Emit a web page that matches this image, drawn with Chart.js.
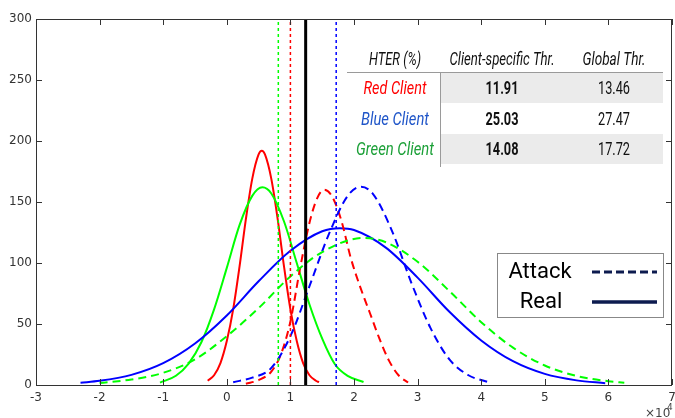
<!DOCTYPE html>
<html>
<head>
<meta charset="utf-8">
<script src="https://cdn.jsdelivr.net/npm/chart.js@4.4.1/dist/chart.umd.min.js"></script>
<style>
  body { margin: 0; background: #fff; }
  canvas { display: block; }
</style>
</head>
<body>
<canvas id="scoreChart" width="675" height="418"></canvas>
<script>
// score distributions (x in units of 1e4)
var redRealX = [-0.3, -0.2, -0.1, 0, 0.1, 0.2, 0.3, 0.4, 0.5, 0.55, 0.6, 0.7, 0.8, 0.9, 1.0, 1.1, 1.2, 1.3, 1.4, 1.45];
var redRealY = [3.5, 8, 18, 36, 62, 97, 136, 169, 189, 192, 189, 169, 136, 97, 62, 36, 18, 8, 3.5, 2.3];
var greenRealX = [-1.05, -0.8, -0.6, -0.4, -0.2, 0, 0.2, 0.4, 0.56, 0.7, 0.9, 1.1, 1.3, 1.5, 1.7, 1.9, 2.15];
var greenRealY = [2, 7.6, 17.6, 35, 62, 96, 131, 155, 162, 157, 134, 100, 66, 38, 17, 7.5, 2.5];
var blueRealX = [-2.3, -2, -1.5, -1, -0.5, 0, 0.5, 1, 1.5, 1.78, 2, 2.5, 3, 3.5, 4, 4.5, 5, 5.5, 5.95];
var blueRealY = [1.9, 3.4, 8.3, 17.9, 34, 57, 85, 110, 126, 128.5, 127, 112.6, 88, 60, 36.5, 19.5, 9.1, 3.8, 1.5];

var redAttackX = [0.3, 0.5, 0.7, 0.85, 1.0, 1.15, 1.3, 1.42, 1.53, 1.65, 1.8, 1.95, 2.1, 2.25, 2.4, 2.55, 2.7, 2.85];
var redAttackY = [1, 4, 11, 25, 52, 95, 133, 153, 160, 155, 135, 104, 80, 59, 38, 20, 8, 2];
var blueAttackX = [0.1, 0.4, 0.7, 1.0, 1.3, 1.6, 1.9, 2.11, 2.3, 2.6, 2.9, 3.2, 3.5, 3.8, 4.1];
var blueAttackY = [2.3, 6, 14, 40, 81, 123, 155, 162.5, 156.5, 126, 84, 47, 21, 8, 2.5];
var greenAttackX = [-2, -1.5, -1, -0.5, 0, 0.5, 1, 1.5, 2.15, 2.5, 3, 3.5, 4, 4.5, 5, 5.5, 6, 6.25];
var greenAttackY = [1.7, 4.5, 10, 21, 40, 63, 89, 109, 120.5, 117, 101, 77, 51.5, 30.6, 16, 7.4, 3.1, 1.9];

// thresholds: green, red client-specific, global, blue client-specific
var thrX = [0.81, 1.0, 1.24, 1.72];
var thrColors = ['#00ff00', '#ff0000', '#000000', '#0000ff'];

var xTicks = [-3, -2, -1, 0, 1, 2, 3, 4, 5, 6, 7];
var yTicks = [0, 50, 100, 150, 200, 250, 300];

var tableHeader = ['HTER (%)', 'Client-specific Thr.', 'Global Thr.'];
var clientNames = ['Red Client', 'Blue Client', 'Green Client'];
var clientThr = ['11.91', '25.03', '14.08'];
var globalThr = ['13.46', '27.47', '17.72'];
var clientColors = ['#ff0000', '#1f55c8', '#1ca038'];

var legendLabels = ['Attack', 'Real'];

function pts(xs, ys) {
    return xs.map(function (x, i) { return { x: x, y: ys[i] }; });
}

function curve(xs, ys, color, dashed) {
    return {
        data: pts(xs, ys),
        borderColor: color,
        borderWidth: 2,
        borderDash: dashed ? [8, 5] : [],
        showLine: true,
        pointRadius: 0,
        cubicInterpolationMode: 'monotone'
    };
}

var datasets = [];
thrX.forEach(function (x, i) {
    var black = thrColors[i] === '#000000';
    datasets.push({
        data: [{ x: x, y: 0 }, { x: x, y: 300 }],
        borderColor: thrColors[i],
        borderWidth: black ? 3 : 1.5,
        borderDash: black ? [] : [3, 3],
        showLine: true,
        pointRadius: 0
    });
});
datasets.push(curve(greenAttackX, greenAttackY, '#00ff00', true));
datasets.push(curve(blueAttackX, blueAttackY, '#0000ff', true));
datasets.push(curve(redAttackX, redAttackY, '#ff0000', true));
datasets.push(curve(blueRealX, blueRealY, '#0000ff', false));
datasets.push(curve(greenRealX, greenRealY, '#00ff00', false));
datasets.push(curve(redRealX, redRealY, '#ff0000', false));

var frame = {
    id: 'frame',
    afterDraw: function (chart) {
        var c = chart.ctx, a = chart.chartArea;
        var sx = chart.scales.x, sy = chart.scales.y;
        c.save();
        // box and inward ticks
        c.strokeStyle = '#333';
        c.lineWidth = 1;
        c.setLineDash([]);
        c.strokeRect(a.left + 0.5, a.top + 0.5, a.right - a.left - 1, a.bottom - a.top);
        c.beginPath();
        xTicks.forEach(function (v) {
            var px = Math.round(sx.getPixelForValue(v)) + 0.5;
            c.moveTo(px, a.bottom); c.lineTo(px, a.bottom - 6);
            c.moveTo(px, a.top); c.lineTo(px, a.top + 6);
        });
        yTicks.forEach(function (v) {
            var py = Math.round(sy.getPixelForValue(v)) + 0.5;
            c.moveTo(a.left, py); c.lineTo(a.left + 6, py);
            c.moveTo(a.right, py); c.lineTo(a.right - 6, py);
        });
        c.stroke();

        // x10^4 exponent
        c.fillStyle = '#444';
        c.textBaseline = 'alphabetic';
        c.textAlign = 'left';
        c.font = '12px "DejaVu Sans"';
        c.fillText('\u00d710', 645, 417);
        c.font = '9px "DejaVu Sans"';
        c.fillText('4', 667, 410);

        // results table
        var rowTop = [72, 103, 134];
        var rowY = [89, 120, 150];
        var colX = [395, 502, 614];
        c.fillStyle = '#ebebeb';
        c.fillRect(441, rowTop[0], 222, 31);
        c.fillRect(441, rowTop[2], 222, 30);
        c.strokeStyle = '#9a9a9a';
        c.beginPath();
        c.moveTo(347, 72.5); c.lineTo(663, 72.5);
        c.moveTo(440.5, 72); c.lineTo(440.5, 167);
        c.stroke();
        c.textAlign = 'center';
        c.textBaseline = 'middle';
        c.fillStyle = '#111';
        c.font = 'italic 18px Roboto';
        var headW = [52, 105, 63];
        tableHeader.forEach(function (t, i) {
            c.fillText(t, colX[i], 60, headW[i]);
        });
        var nameW = [63, 68, 78];
        clientNames.forEach(function (t, i) {
            c.fillStyle = clientColors[i];
            c.font = 'italic 19px Roboto';
            c.fillText(t, colX[0], rowY[i], nameW[i]);
            c.fillStyle = '#111';
            c.font = 'bold 18px Roboto';
            c.fillText(clientThr[i], colX[1], rowY[i], 33);
            c.font = '18px Roboto';
            c.fillText(globalThr[i], colX[2], rowY[i], 32);
        });

        // line style legend
        c.fillStyle = '#fff';
        c.fillRect(497, 253, 166, 65);
        c.strokeStyle = '#888';
        c.strokeRect(497.5, 253.5, 166, 64);
        c.fillStyle = '#000';
        c.font = '22px Roboto';
        c.fillText(legendLabels[0], 540, 272, 66);
        c.fillText(legendLabels[1], 541, 302, 48);
        c.strokeStyle = '#0d1b4f';
        c.lineWidth = 3;
        c.setLineDash([8, 4]);
        c.beginPath(); c.moveTo(592, 272); c.lineTo(657, 272); c.stroke();
        c.setLineDash([]);
        c.lineWidth = 3.5;
        c.beginPath(); c.moveTo(592, 302); c.lineTo(657, 302); c.stroke();
        c.restore();
    }
};

var ctx = document.getElementById('scoreChart');
var scoreChart = new Chart(ctx, {
    type: 'scatter',
    data: { datasets: datasets },
    options: {
        responsive: false,
        animation: false,
        layout: { padding: { top: 19, right: 3, left: 0, bottom: 0 } },
        plugins: {
            legend: { display: false },
            tooltip: { enabled: false }
        },
        scales: {
            x: {
                type: 'linear',
                min: -3,
                max: 7,
                afterBuildTicks: function (s) { s.ticks = xTicks.map(function (v) { return { value: v }; }); },
                afterFit: function (s) { s.height = 33; s.paddingLeft = 0; s.paddingRight = 0; },
                grid: { display: false, drawTicks: false },
                border: { display: false },
                ticks: { color: '#333', padding: 6, maxRotation: 0, font: { family: 'DejaVu Sans', size: 12 } }
            },
            y: {
                min: 0,
                max: 300,
                afterBuildTicks: function (s) { s.ticks = yTicks.map(function (v) { return { value: v }; }); },
                afterFit: function (s) { s.width = 36; s.paddingTop = 0; s.paddingBottom = 0; },
                grid: { display: false, drawTicks: false },
                border: { display: false },
                ticks: { color: '#333', padding: 4, font: { family: 'DejaVu Sans', size: 12 } }
            }
        }
    },
    plugins: [frame]
});
</script>
</body>
</html>
